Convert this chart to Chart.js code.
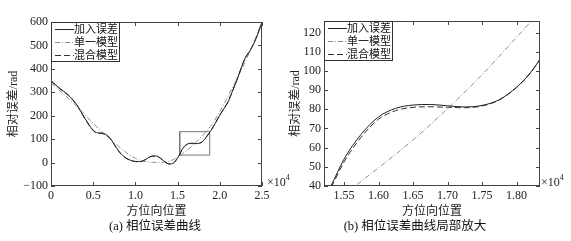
<!DOCTYPE html>
<html>
<head>
<meta charset="utf-8">
<script src="https://cdn.jsdelivr.net/npm/chart.js@4.4.1/dist/chart.umd.min.js"></script>
<style>
  body { margin: 0; background: #fff; width: 571px; height: 241px; overflow: hidden; position: relative; }
  #wrapA { position: absolute; left: 0; top: 0; width: 290px; height: 241px; }
  #wrapB { position: absolute; left: 283px; top: 0; width: 288px; height: 241px; }
  .cap { position: absolute; top: 219px; line-height: 15px; font-size: 12.5px; color: #111; white-space: nowrap;
         transform: translateX(-50%); font-family: "Liberation Serif", "Noto Sans CJK SC", serif; }
</style>
</head>
<body>
<div id="wrapA"><canvas id="chartA"></canvas></div>
<div id="wrapB"><canvas id="chartB"></canvas></div>
<div class="cap" style="left:155px">(a) 相位误差曲线</div>
<div class="cap" style="left:415px">(b) 相位误差曲线局部放大</div>
<script>
// x is azimuth position in units of 10^4
const errX = [0, 0.1, 0.2, 0.3, 0.4, 0.5, 0.55, 0.6, 0.65, 0.7, 0.75, 0.8, 0.85, 0.9, 0.95, 1.0, 1.05, 1.1, 1.15, 1.2,
  1.25, 1.3, 1.35, 1.4, 1.45, 1.5, 1.531, 1.55, 1.575, 1.6, 1.625, 1.65, 1.675, 1.7, 1.725, 1.75, 1.775, 1.8, 1.82,
  1.834, 1.85, 1.9, 1.95, 2.0, 2.05, 2.1, 2.15, 2.2, 2.25, 2.3, 2.35, 2.4, 2.45, 2.5];
const errY = [350, 318, 290, 250, 190, 138, 127, 126, 120, 104, 78, 50, 30, 17, 9, 5, 4, 9, 20, 28,
  28, 18, 3, -6, -2, 20, 40, 54, 67, 76, 80.5, 82.2, 82.5, 81.8, 81.2, 82, 85, 91.5, 99,
  106, 114, 140, 170, 202, 230, 260, 305, 350, 400, 445, 472, 505, 548, 600];
const mixY = [348, 316, 288, 248, 188, 136, 126, 124, 118, 102, 76, 49, 29, 16, 8, 4, 4, 9, 19, 27,
  27, 17, 3, -6, -2, 19, 39, 52.5, 65.5, 74.8, 79.3, 81, 81.3, 81, 80.8, 81.7, 84.8, 91.3, 98.8,
  106, 114, 140, 170, 203, 232, 262, 305, 350, 400, 447, 475, 508, 550, 600];
const singleX = [0, 0.1, 0.2, 0.3, 0.4, 0.5, 0.6, 0.7, 0.8, 0.9, 1.0, 1.1, 1.2, 1.3, 1.4, 1.5, 1.566, 1.6, 1.65,
  1.702, 1.75, 1.8, 1.819, 1.85, 1.9, 2.0, 2.1, 2.2, 2.3, 2.4, 2.5];
const singleY = [340, 308, 276, 242, 205, 168, 132, 100, 70, 40, 18, 6, 1, 1, 6, 22, 40, 49.5, 64,
  81, 98, 117.5, 125, 138, 160, 218, 285, 355, 430, 510, 600];
// zoom window marked on the left plot
const boxX = [1.525, 1.88, 1.88, 1.525, 1.525];
const boxY = [32, 32, 132, 132, 32];

const seriesNames = ["加入误差", "单一模型", "混合模型"];
const xTicksA = [0, 0.5, 1.0, 1.5, 2.0, 2.5];
const yTicksA = [-100, 0, 100, 200, 300, 400, 500, 600];
const xTicksB = [1.55, 1.60, 1.65, 1.70, 1.75, 1.80];
const yTicksB = [40, 50, 60, 70, 80, 90, 100, 110, 120];

const numFont = { family: "'Liberation Serif', serif", size: 12 };
const cjkFont = { family: "'Liberation Serif', 'Noto Sans CJK SC', serif", size: 12 };

const pts = (xs, ys) => xs.map((x, i) => ({ x, y: ys[i] }));

function seriesDatasets() {
  return [
    { label: seriesNames[0], data: pts(errX, errY), borderColor: "#222", borderDash: [] },
    { label: seriesNames[1], data: pts(singleX, singleY), borderColor: "#8c8c8c", borderDash: [5, 2, 1, 2] },
    { label: seriesNames[2], data: pts(errX, mixY), borderColor: "#333", borderDash: [6, 3] }
  ];
}

// frame, inward ticks, legend box and the x10^4 note
const framePlugin = {
  id: "frame",
  afterDatasetsDraw(chart, args, opts) {
    const { ctx, chartArea: a, scales: { x, y } } = chart;
    ctx.save();
    ctx.strokeStyle = "#444";
    ctx.lineWidth = 1;
    ctx.beginPath();
    x.ticks.forEach(t => {
      const px = Math.round(x.getPixelForValue(t.value)) + 0.5;
      ctx.moveTo(px, a.bottom); ctx.lineTo(px, a.bottom - 4);
      ctx.moveTo(px, a.top); ctx.lineTo(px, a.top + 4);
    });
    y.ticks.forEach(t => {
      const py = Math.round(y.getPixelForValue(t.value)) + 0.5;
      ctx.moveTo(a.left, py); ctx.lineTo(a.left + 4, py);
      ctx.moveTo(a.right, py); ctx.lineTo(a.right - 4, py);
    });
    ctx.stroke();
    ctx.strokeRect(a.left + 0.5, a.top + 0.5, a.width - 1, a.height - 1);

    // legend
    const lx = a.left + 0.5, ly = a.top + 0.5;
    ctx.fillStyle = "#fff";
    ctx.fillRect(lx, ly, 68, 39);
    ctx.strokeStyle = "#333";
    ctx.strokeRect(lx, ly, 68, 39);
    ctx.font = "11px 'Noto Sans CJK SC'";
    ctx.textBaseline = "middle";
    chart.data.datasets.slice(0, 3).forEach((ds, i) => {
      const cy = a.top + 7 + i * 13;
      ctx.strokeStyle = ds.borderColor;
      ctx.setLineDash(ds.borderDash);
      ctx.beginPath();
      ctx.moveTo(a.left + 4, cy + 0.5); ctx.lineTo(a.left + 23, cy + 0.5);
      ctx.stroke();
      ctx.setLineDash([]);
      ctx.fillStyle = "#111";
      ctx.fillText(ds.label, a.left + 23, cy);
    });

    // x10^4 multiplier
    ctx.fillStyle = "#222";
    ctx.textBaseline = "alphabetic";
    ctx.font = "12px 'Liberation Serif'";
    ctx.fillText("×10", opts.expX, 186);
    const w = ctx.measureText("×10").width;
    ctx.font = "8px 'Liberation Serif'";
    ctx.fillText("4", opts.expX + w, 180);
    ctx.restore();
  }
};

function makeChart(id, cfg) {
  return new Chart(document.getElementById(id), {
    type: "line",
    data: { datasets: cfg.datasets },
    options: {
      responsive: true,
      maintainAspectRatio: false,
      animation: false,
      layout: { padding: cfg.padding },
      elements: {
        point: { radius: 0 },
        line: { borderWidth: 1, cubicInterpolationMode: "monotone" }
      },
      plugins: {
        legend: { display: false },
        tooltip: { enabled: false },
        frame: { expX: cfg.expX }
      },
      scales: {
        x: {
          type: "linear", min: cfg.xMin, max: cfg.xMax,
          afterBuildTicks: s => { s.ticks = cfg.xTicks.map(v => ({ value: v })); },
          afterFit: s => { s.height = 55; },
          grid: { display: false, drawTicks: false },
          border: { display: false },
          ticks: { padding: 3, font: numFont, color: "#222", maxRotation: 0, autoSkip: false, callback: cfg.xFmt },
          title: { display: true, text: "方位向位置", font: cjkFont, color: "#222", padding: { top: 0, bottom: 22 } }
        },
        y: {
          min: cfg.yMin, max: cfg.yMax,
          afterBuildTicks: s => { s.ticks = cfg.yTicks.map(v => ({ value: v })); },
          afterFit: s => { s.width = cfg.yWidth; },
          grid: { display: false, drawTicks: false },
          border: { display: false },
          ticks: { padding: 3, font: numFont, color: "#222", autoSkip: false,
                   callback: v => v < 0 ? "\u2212" + Math.abs(v) : String(v) },
          title: { display: true, text: "相对误差/rad", font: cjkFont, color: "#222", padding: { top: cfg.yTitlePad, bottom: 0 } }
        }
      }
    },
    plugins: [framePlugin]
  });
}

const dsA = seriesDatasets();
dsA.push({ label: "box", data: pts(boxX, boxY), borderColor: "#777", borderDash: [], cubicInterpolationMode: "default", tension: 0 });

makeChart("chartA", {
  datasets: dsA,
  padding: { left: 0, top: 22, right: 28, bottom: 0 },
  xMin: 0, xMax: 2.5, yMin: -100, yMax: 600,
  xTicks: xTicksA, yTicks: yTicksA, yWidth: 51, yTitlePad: 7, expX: 267,
  xFmt: v => v === 0 ? "0" : v.toFixed(1)
});

makeChart("chartB", {
  datasets: seriesDatasets(),
  padding: { left: 0, top: 21, right: 31, bottom: 0 },
  xMin: 1.521, xMax: 1.834, yMin: 40, yMax: 126,
  xTicks: xTicksB, yTicks: yTicksB, yWidth: 41, yTitlePad: 6, expX: 258,
  xFmt: v => v.toFixed(2)
});
</script>
</body>
</html>
